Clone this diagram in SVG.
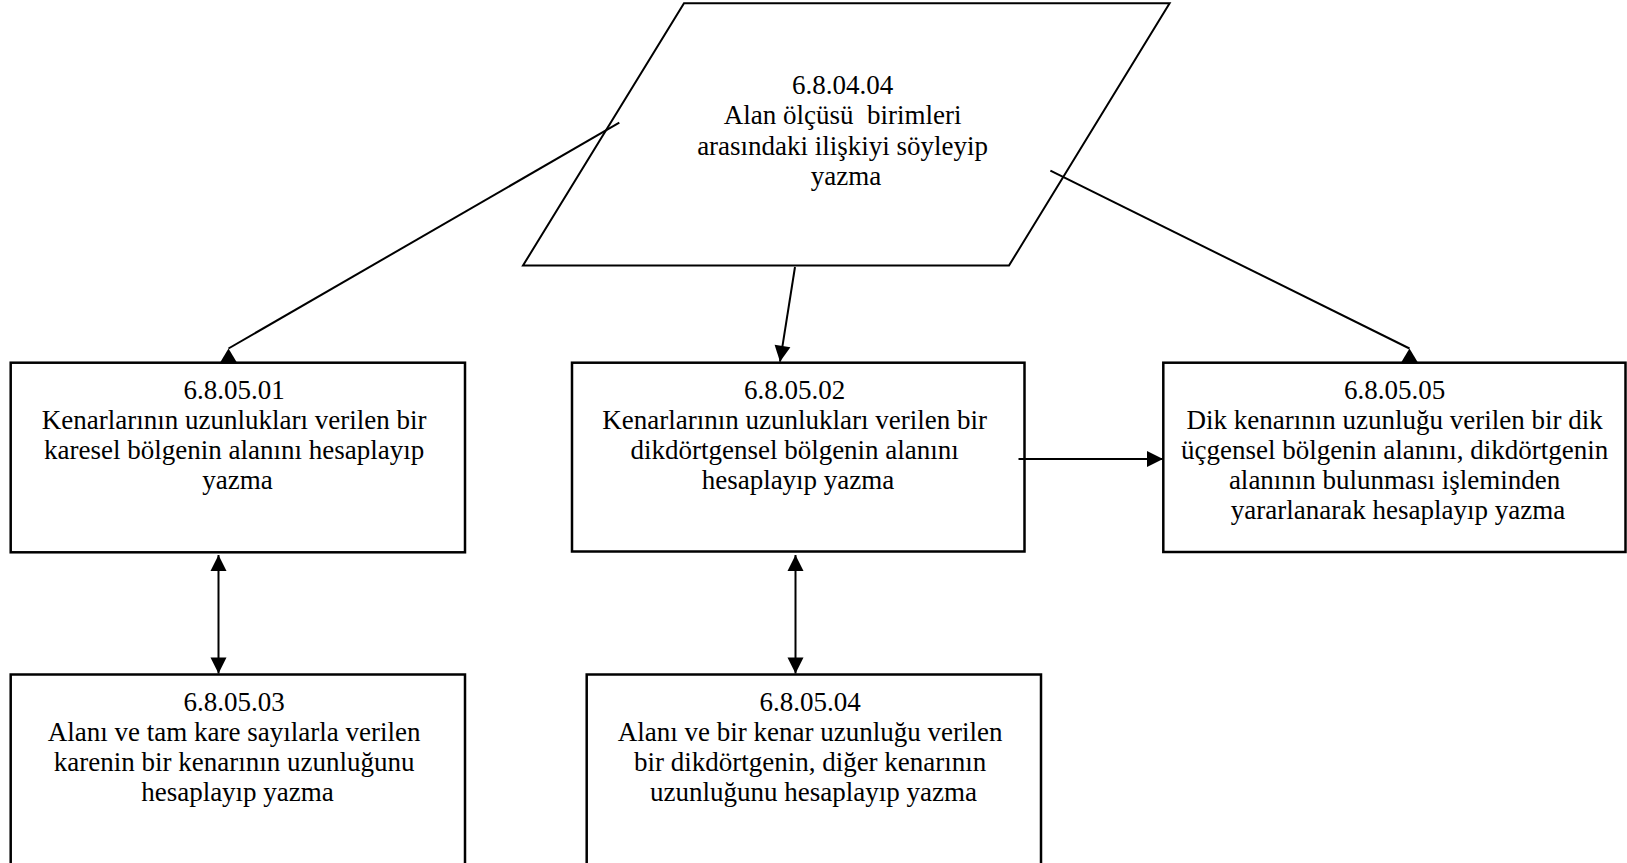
<svg xmlns="http://www.w3.org/2000/svg" width="1627" height="863" viewBox="0 0 1627 863">
  <style>
    .box { fill: #ffffff; stroke: #000000; stroke-width: 2.5; }
    .para { fill: none; stroke: #000000; stroke-width: 2; }
    .link { fill: none; stroke: #000000; stroke-width: 2; }
    .head { fill: #000000; stroke: none; }
    .lbl { font-family: "Liberation Serif", "Times New Roman", serif; font-size: 27px; fill: #000000; text-anchor: middle; }
  </style>
  <defs>
    <!-- arrowhead that follows the line direction -->
    <marker id="arrow" markerUnits="userSpaceOnUse" markerWidth="16" markerHeight="16" refX="16" refY="8" orient="auto-start-reverse" overflow="visible">
      <path d="M0,0 L16,8 L0,16 Z" fill="#000000"/>
    </marker>
    <!-- upright wedge resting on the top edge of a box, apex at origin -->
    <path id="wedge" class="head" d="M0,0 L9,15 L-9,15 Z"/>
  </defs>

  <rect width="1627" height="863" fill="#ffffff"/>

  <!-- 6.8.04.04 (parallelogram) -->
  <g id="n-6-8-04-04">
    <polygon class="para" points="684,3.3 1169.6,3.3 1009,265.5 523,265.5"/>
    <text class="lbl">
      <tspan x="846" y="93.5">6.8.04.04</tspan>
      <tspan x="846" y="124">Alan ölçüsü&#160; birimleri</tspan>
      <tspan x="846" y="154.5">arasındaki ilişkiyi söyleyip</tspan>
      <tspan x="846" y="185">yazma</tspan>
    </text>
  </g>

  <!-- 6.8.05.01 -->
  <g id="n-6-8-05-01">
    <rect class="box" x="10.7" y="362.7" width="454.3" height="189.6"/>
    <text class="lbl">
      <tspan x="237.5" y="399">6.8.05.01</tspan>
      <tspan x="237.5" y="429">Kenarlarının uzunlukları verilen bir</tspan>
      <tspan x="237.5" y="459">karesel bölgenin alanını hesaplayıp</tspan>
      <tspan x="237.5" y="489">yazma</tspan>
    </text>
  </g>

  <!-- 6.8.05.02 -->
  <g id="n-6-8-05-02">
    <rect class="box" x="572" y="362.7" width="452.5" height="188.8"/>
    <text class="lbl">
      <tspan x="798" y="399">6.8.05.02</tspan>
      <tspan x="798" y="429">Kenarlarının uzunlukları verilen bir</tspan>
      <tspan x="798" y="459">dikdörtgensel bölgenin alanını</tspan>
      <tspan x="798" y="489">hesaplayıp yazma</tspan>
    </text>
  </g>

  <!-- 6.8.05.05 -->
  <g id="n-6-8-05-05">
    <rect class="box" x="1163.3" y="362.7" width="462.2" height="189.3"/>
    <text class="lbl">
      <tspan x="1398" y="399">6.8.05.05</tspan>
      <tspan x="1398" y="429">Dik kenarının uzunluğu verilen bir dik</tspan>
      <tspan x="1398" y="459">üçgensel bölgenin alanını, dikdörtgenin</tspan>
      <tspan x="1398" y="489">alanının bulunması işleminden</tspan>
      <tspan x="1398" y="519">yararlanarak hesaplayıp yazma</tspan>
    </text>
  </g>

  <!-- 6.8.05.03 -->
  <g id="n-6-8-05-03">
    <rect class="box" x="10.7" y="674.5" width="454.3" height="210"/>
    <text class="lbl">
      <tspan x="237.5" y="710.5">6.8.05.03</tspan>
      <tspan x="237.5" y="740.5">Alanı ve tam kare sayılarla verilen</tspan>
      <tspan x="237.5" y="770.5">karenin bir kenarının uzunluğunu</tspan>
      <tspan x="237.5" y="800.5">hesaplayıp yazma</tspan>
    </text>
  </g>

  <!-- 6.8.05.04 -->
  <g id="n-6-8-05-04">
    <rect class="box" x="586.7" y="674.5" width="454.3" height="210"/>
    <text class="lbl">
      <tspan x="813.5" y="710.5">6.8.05.04</tspan>
      <tspan x="813.5" y="740.5">Alanı ve bir kenar uzunluğu verilen</tspan>
      <tspan x="813.5" y="770.5">bir dikdörtgenin, diğer kenarının</tspan>
      <tspan x="813.5" y="800.5">uzunluğunu hesaplayıp yazma</tspan>
    </text>
  </g>

  <!-- connectors -->
  <g id="connectors">
    <line class="link" x1="619.3" y1="122.7" x2="228.5" y2="348.5"/>
    <use href="#wedge" x="228.5" y="348.5"/>
    <line class="link" x1="795" y1="267" x2="780" y2="361.7" marker-end="url(#arrow)"/>
    <line class="link" x1="1050.4" y1="170.7" x2="1409.5" y2="348.5"/>
    <use href="#wedge" x="1409.5" y="348.5"/>
    <line class="link" x1="1018.5" y1="459" x2="1163" y2="459" marker-end="url(#arrow)"/>
    <line class="link" x1="218.5" y1="555" x2="218.5" y2="673.5" marker-start="url(#arrow)" marker-end="url(#arrow)"/>
    <line class="link" x1="795.5" y1="555" x2="795.5" y2="673.5" marker-start="url(#arrow)" marker-end="url(#arrow)"/>
  </g>
</svg>
